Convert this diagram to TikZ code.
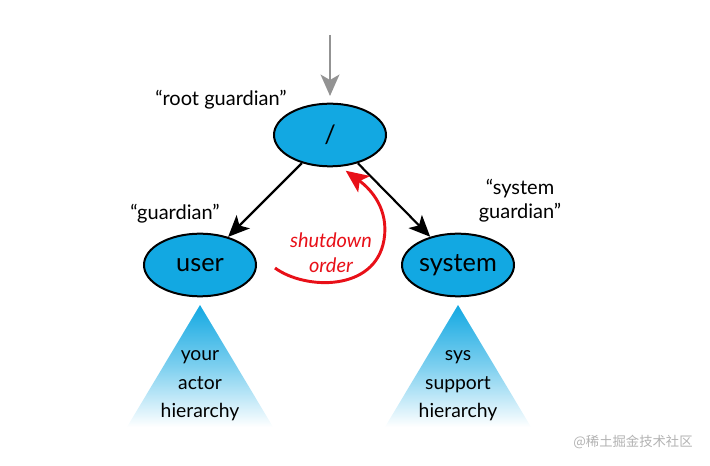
\documentclass[tikz,border=0pt]{standalone}
\usepackage{fontspec}
\setmainfont{Lato}
\newfontfamily\cjk{Noto Sans CJK SC}
\usetikzlibrary{shapes.geometric, arrows.meta}
\definecolor{nodeblue}{RGB}{18,168,226}
\definecolor{orderred}{RGB}{232,16,24}
\tikzset{actor/.style = {draw, ellipse, fill = nodeblue, line width = 1.5pt, inner sep = 0,
    minimum width = 84, minimum height = 47, font = \fontsize{19}{22}\selectfont},
  label/.style = {font = \fontsize{15}{18}\selectfont, align = center},
  tree/.style = {top color = nodeblue, bottom color = white, middle color = nodeblue!55},
  super/.style = {-{Stealth[length = 16pt, width = 14pt, inset = 4pt]}, line width = 1.6pt}}

\begin{document}
\begin{tikzpicture}[x = 0.75pt, y = -0.75pt]
    \useasboundingbox (0, 0) rectangle (710, 466);

    \node [actor] (root) at (330, 135) {/};
    \node [actor] (user) at (200, 265) {user};
    \node [actor] (system) at (458, 265) {system};

    \coordinate (entry) at (330, 35);
    \draw [super, gray!85, line width = 2pt, shorten >= 5pt] (entry) -- (root);

    \draw [super] (root) -- (user);
    \draw [super] (root) -- (system);

    \node [label] (rootname) at (221, 100) {“root guardian”};
    \node [label] (username) at (175, 214) {“guardian”};
    \node [label] (systemname) at (520, 201) {“system\\guardian”};

    \shade [tree] (200, 305) -- (127, 427) -- (273, 427) -- cycle;
    \shade [tree] (458, 305) -- (385, 427) -- (531, 427) -- cycle;
    \node [label, font = \fontsize{14.5}{21.5}\selectfont] (usertree) at (200, 386) {your\\actor\\hierarchy};
    \node [label, font = \fontsize{14.5}{21.5}\selectfont] (systemtree) at (458, 386) {sys\\support\\hierarchy};

    \draw [orderred, line width = 2.2pt, shorten >= 5pt, -{Stealth[length = 17pt, width = 15pt, inset = 4pt]}]
    (user.east) ++(18, 3) .. controls (305, 290) and (375, 292) .. (384, 240)
    .. controls (389, 210) and (372, 190) .. (root.-72);
    \node [label, orderred, font = \fontsize{15}{19}\selectfont\itshape] (order) at (331, 253) {shutdown\\order};

    \node [text = gray!60, font = \cjk\fontsize{10}{12}\selectfont] (mark) at (633, 442) {@稀土掘金技术社区};
  \end{tikzpicture}
\end{document}
